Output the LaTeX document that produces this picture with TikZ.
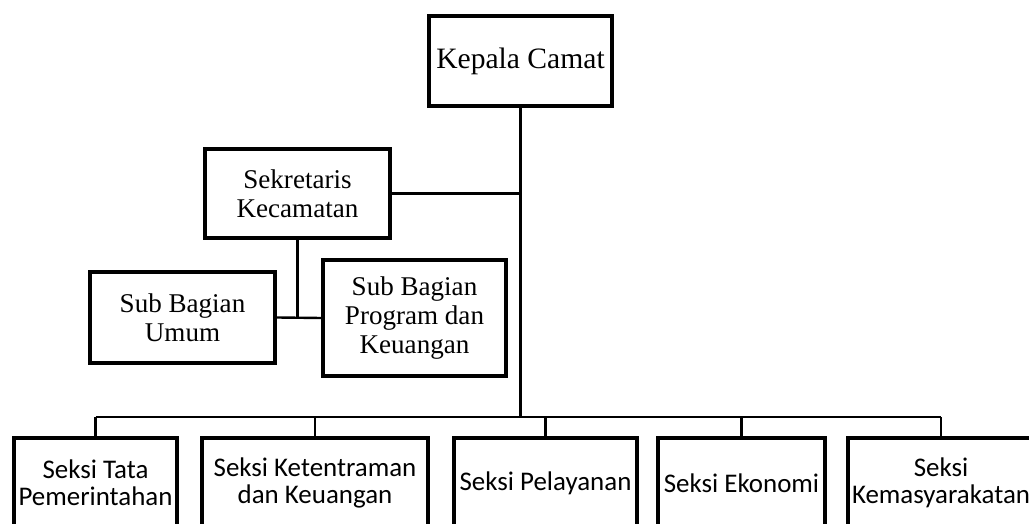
\documentclass[tikz,border=0pt]{standalone}
\usepackage{fontspec}
\setmainfont{Liberation Serif}
\newfontfamily\calibrifont{Carlito}
\usepackage{tikz}

\begin{document}
\begin{tikzpicture}[x=0.75pt, y=-0.75pt,
        unitbox/.style={draw, line width=3pt, align=center, inner sep=2pt,
            font=\fontsize{20.3}{21.6}\selectfont},
        seksibox/.style={unitbox, minimum height=67.5pt,
            font=\calibrifont\fontsize{20.2}{20.6}\selectfont},
        link/.style={line width=1.8pt}]
        \clip (0,0) rectangle (1029,524);
        % --- Draw upper units ---
        \node[unitbox, minimum width=137pt, minimum height=67.5pt,
            font=\fontsize{22.2}{23}\selectfont] (camat) at (520.5,61) {Kepala Camat};
        \node[unitbox, minimum width=139pt, minimum height=67pt] (sekcam) at (297.5,193.5) {Sekretaris\\Kecamatan};
        \node[unitbox, minimum width=139pt, minimum height=68pt] (umum) at (182.5,317.5) {Sub Bagian\\Umum};
        \node[unitbox, minimum width=137pt, minimum height=87pt] (program) at (414.5,318) {Sub Bagian\\Program dan\\Keuangan};
        % --- Draw seksi units ---
        \node[seksibox, minimum width=122pt] (tata) at (95.5,483) {Seksi Tata\\Pemerintahan};
        \node[seksibox, minimum width=169.5pt] (tentram) at (315,483) {Seksi Ketentraman\\dan Keuangan};
        \node[seksibox, minimum width=137pt] (layan) at (545.5,483) {Seksi Pelayanan};
        \node[seksibox, minimum width=125pt] (ekonomi) at (741.5,483) {Seksi Ekonomi};
        \node[seksibox, minimum width=139.5pt] (masy) at (941,483) {Seksi\\Kemasyarakatan};
        % --- Draw connectors ---
        \coordinate (bus) at (521,417);
        \draw[link] (camat.south) -- (camat.south |- bus);
        \draw[link] (sekcam.east) -- (sekcam.east -| camat.south);
        \draw[link] (sekcam.south) -- (sekcam.south |- umum.east);
        \draw[link] (umum.east) -- (program.west);
        \draw[link] (tata.north |- bus) -- (masy.north |- bus);
        \foreach \s in {tata,tentram,layan,ekonomi,masy}
            \draw[link] (\s.north) -- (\s.north |- bus);
        % ---
\end{tikzpicture}
\end{document}
